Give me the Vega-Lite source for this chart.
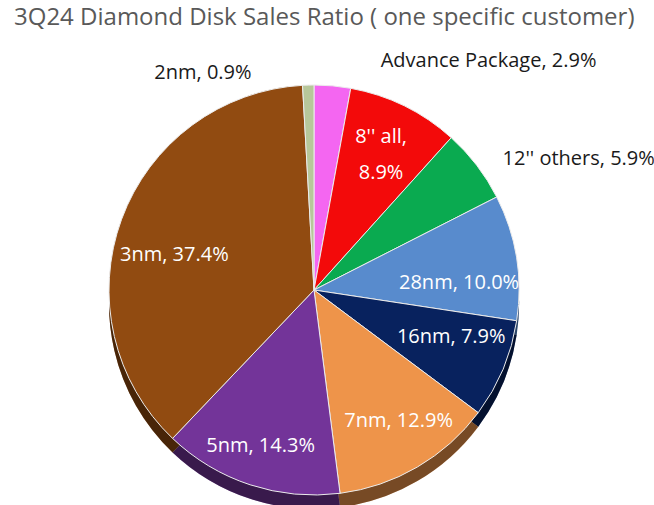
{
  "$schema": "https://vega.github.io/schema/vega-lite/v6.json",
  "width": 628,
  "height": 400,
  "autosize": "none",
  "padding": {"left": 0, "top": 90, "right": 26, "bottom": 15},
  "background": "white",
  "title": {
    "text": "3Q24 Diamond Disk Sales Ratio ( one specific customer)",
    "anchor": "start",
    "frame": "group",
    "dx": 14,
    "offset": 1,
    "baseline": "alphabetic",
    "font": "Open Sans",
    "fontSize": 24,
    "fontWeight": "normal",
    "color": "#595959"
  },
  "data": {
    "values": [
      {"segment": "Advance Package", "share": 2.9, "idx": 1, "label": "Advance Package, 2.9%"},
      {"segment": "8'' all", "share": 8.9, "idx": 2, "label": ["8'' all,", "8.9%"]},
      {"segment": "12'' others", "share": 5.9, "idx": 3, "label": "12'' others, 5.9%"},
      {"segment": "28nm", "share": 10.0, "idx": 4, "label": "28nm, 10.0%"},
      {"segment": "16nm", "share": 7.9, "idx": 5, "label": "16nm, 7.9%"},
      {"segment": "7nm", "share": 12.9, "idx": 6, "label": "7nm, 12.9%"},
      {"segment": "5nm", "share": 14.3, "idx": 7, "label": "5nm, 14.3%"},
      {"segment": "3nm", "share": 37.4, "idx": 8, "label": "3nm, 37.4%"},
      {"segment": "2nm", "share": 0.9, "idx": 9, "label": "2nm, 0.9%"}
    ]
  },
  "encoding": {
    "theta": {"field": "share", "type": "quantitative", "stack": true},
    "order": {"field": "idx", "type": "quantitative"}
  },
  "layer": [
    {
      "mark": {"type": "arc", "outerRadius": 205, "yOffset": 14},
      "encoding": {
        "color": {
          "field": "segment", "type": "nominal", "legend": null,
          "scale": {
            "domain": ["Advance Package", "8'' all", "12'' others", "28nm", "16nm", "7nm", "5nm", "3nm", "2nm"],
            "range": ["#F466F1", "#F30A0A", "#0AAA50", "#588BCD", "#08225E", "#EE944A", "#733499", "#914B11", "#B7C79A"]
          }
        }
      }
    },
    {
      "mark": {"type": "arc", "outerRadius": 205, "yOffset": 14, "fill": "black", "opacity": 0.5}
    },
    {
      "mark": {"type": "arc", "outerRadius": 205, "stroke": "#ececec", "strokeWidth": 1},
      "encoding": {
        "color": {"field": "segment", "type": "nominal", "legend": null}
      }
    },
    {
      "mark": {"type": "text", "radius": 152, "font": "Open Sans", "fontSize": 20, "fill": "white", "lineHeight": 36, "dy": -17},
      "encoding": {"text": {"condition": {"test": "datum.idx === 2", "field": "label"}, "value": ""}}
    },
    {
      "mark": {"type": "text", "radius": 152, "font": "Open Sans", "fontSize": 20, "fill": "white", "dx": -5, "dy": 17},
      "encoding": {"text": {"condition": {"test": "datum.idx === 4", "field": "label"}, "value": ""}}
    },
    {
      "mark": {"type": "text", "radius": 152, "font": "Open Sans", "fontSize": 20, "fill": "white", "dx": -3, "dy": -12},
      "encoding": {"text": {"condition": {"test": "datum.idx === 5", "field": "label"}, "value": ""}}
    },
    {
      "mark": {"type": "text", "radius": 152, "font": "Open Sans", "fontSize": 20, "fill": "white", "dx": 8, "dy": 0},
      "encoding": {"text": {"condition": {"test": "datum.idx === 6", "field": "label"}, "value": ""}}
    },
    {
      "mark": {"type": "text", "radius": 152, "font": "Open Sans", "fontSize": 20, "fill": "white", "dx": -6, "dy": 12},
      "encoding": {"text": {"condition": {"test": "datum.idx === 7", "field": "label"}, "value": ""}}
    },
    {
      "mark": {"type": "text", "radius": 152, "font": "Open Sans", "fontSize": 20, "fill": "white", "dx": 3, "dy": 18},
      "encoding": {"text": {"condition": {"test": "datum.idx === 8", "field": "label"}, "value": ""}}
    },
    {
      "mark": {"type": "text", "radius": 230, "font": "Open Sans", "fontSize": 20, "fill": "#1a1a1a", "align": "left", "dx": 46},
      "encoding": {"text": {"condition": {"test": "datum.idx === 1", "field": "label"}, "value": ""}}
    },
    {
      "mark": {"type": "text", "radius": 225, "font": "Open Sans", "fontSize": 20, "fill": "#1a1a1a", "align": "left", "dx": 10, "dy": 6},
      "encoding": {"text": {"condition": {"test": "datum.idx === 3", "field": "label"}, "value": ""}}
    },
    {
      "mark": {"type": "text", "radius": 230, "font": "Open Sans", "fontSize": 20, "fill": "#1a1a1a", "align": "right", "dx": -56, "dy": 13},
      "encoding": {"text": {"condition": {"test": "datum.idx === 9", "field": "label"}, "value": ""}}
    }
  ],
  "config": {"view": {"stroke": null}}
}
